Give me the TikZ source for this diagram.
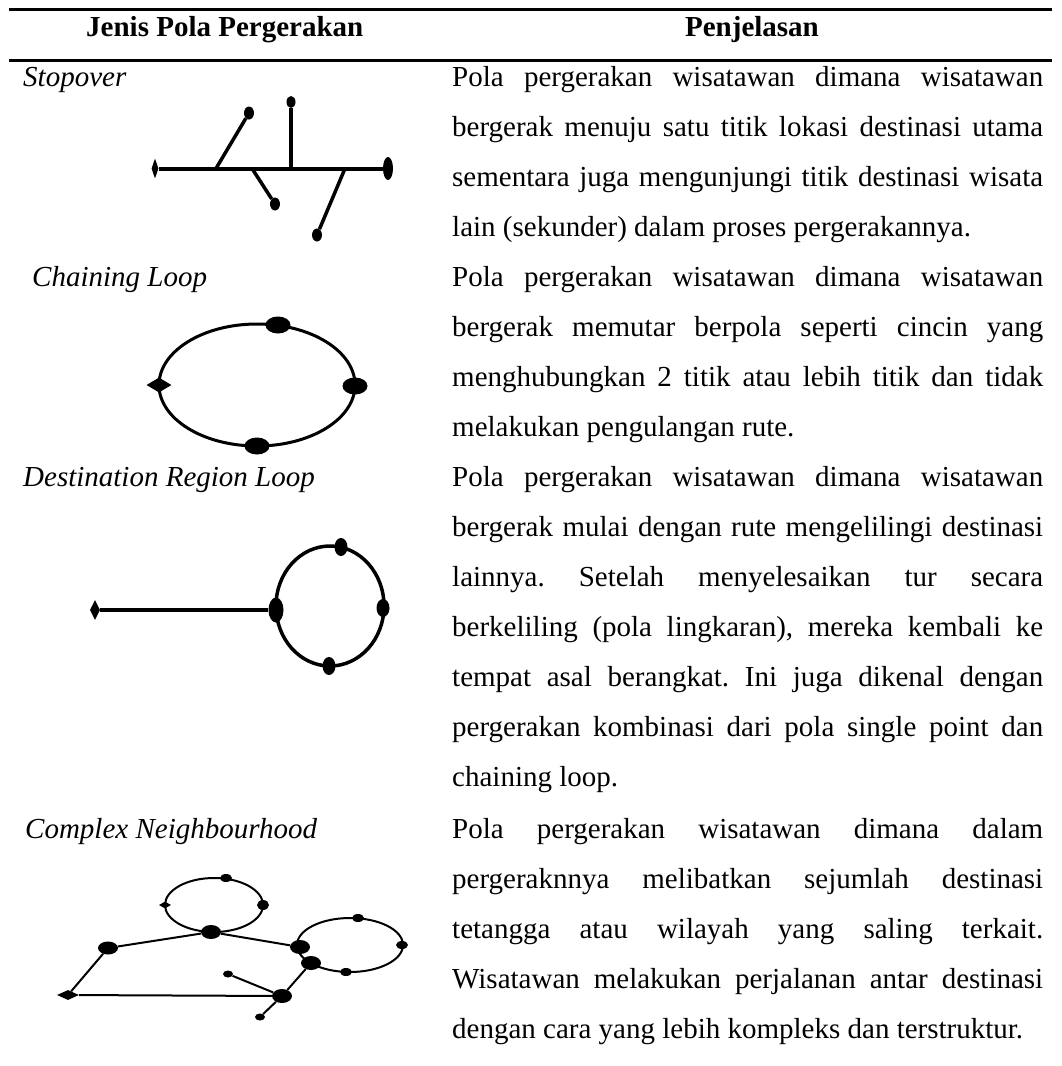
\documentclass[tikz,border=0pt]{standalone}
\usepackage{fontspec}
\setmainfont{Liberation Serif}
\usetikzlibrary{shapes.geometric}
\tikzset{
  spot/.style 2 args={ellipse, fill=black, inner sep=0pt, minimum width=#1pt, minimum height=#2pt},
  tipp/.style 2 args={diamond, fill=black, inner sep=0pt, minimum width=#1pt, minimum height=#2pt},
  head/.style={anchor=base, inner sep=0pt, font=\fontsize{29}{50}\selectfont\bfseries},
  kind/.style={anchor=base west, inner sep=0pt, font=\fontsize{29}{50}\selectfont\itshape},
  desc/.style={anchor=base west, inner sep=0pt, text width=591pt, align=justify, font=\fontsize{29}{50}\selectfont\frenchspacing}
}

\begin{document}
\begin{tikzpicture}[x=1pt, y=-1pt]
		%%%%% START %%%%%
		\fill[white] (0,0) rectangle (1061,1066);
		\useasboundingbox (0,0) rectangle (1061,1066);
		
		% table rules and header
		\draw[line width=3pt] (9,9) -- (1052,9);
		\draw[line width=3pt] (9,60) -- (1052,60);
		\node[head, anchor=base west] (h1) at (86,36) {Jenis Pola Pergerakan};
		\node[head] (h2) at (752,36) {Penjelasan};
		
		% row labels
		\node[kind] (k1) at (23,86) {Stopover};
		\node[kind] (k2) at (32,286) {Chaining Loop};
		\node[kind] (k3) at (23,486) {Destination Region Loop};
		\node[kind] (k4) at (25,838) {Complex Neighbourhood};
		
		% descriptions
		\node[desc] (d1) at (452,86) {\tolerance=10000\hyphenpenalty=10000
			Pola pergerakan wisatawan dimana wisatawan\linebreak
			bergerak menuju satu titik lokasi destinasi utama\linebreak
			sementara juga mengunjungi titik destinasi wisata\linebreak
			lain (sekunder) dalam proses pergerakannya.};
		\node[desc] (d2) at (452,286) {\tolerance=10000\hyphenpenalty=10000
			Pola pergerakan wisatawan dimana wisatawan\linebreak
			bergerak memutar berpola seperti cincin yang\linebreak
			menghubungkan 2 titik atau lebih titik dan tidak\linebreak
			melakukan pengulangan rute.};
		\node[desc] (d3) at (452,486) {\tolerance=10000\hyphenpenalty=10000
			Pola pergerakan wisatawan dimana wisatawan\linebreak
			bergerak mulai dengan rute mengelilingi destinasi\linebreak
			lainnya. Setelah menyelesaikan tur secara\linebreak
			berkeliling (pola lingkaran), mereka kembali ke\linebreak
			tempat asal berangkat. Ini juga dikenal dengan\linebreak
			pergerakan kombinasi dari pola single point dan\linebreak
			chaining loop.};
		\node[desc] (d4) at (452,838) {\tolerance=10000\hyphenpenalty=10000
			Pola pergerakan wisatawan dimana dalam\linebreak
			pergeraknnya melibatkan sejumlah destinasi\linebreak
			tetangga atau wilayah yang saling terkait.\linebreak
			Wisatawan melakukan perjalanan antar destinasi\linebreak
			dengan cara yang lebih kompleks dan terstruktur.};
		
		% stopover
		\node[tipp={7}{20}] (sl) at (155,168.5) {};
		\node[spot={10}{23}] (sr) at (388,168.5) {};
		\draw[line width=4pt] (sl) -- (sr);
		\coordinate (b1) at (216,168.5);
		\coordinate (b2) at (291,168.5);
		\coordinate (b3) at (252,168.5);
		\coordinate (b4) at (345,168.5);
		\node[spot={10}{13}] (s1) at (249,113) {};
		\node[spot={9}{12}] (s2) at (291,102) {};
		\node[spot={10}{13}] (s3) at (275,204) {};
		\node[spot={10}{13}] (s4) at (317,235) {};
		\draw[line width=3.5pt] (b1) -- (s1);
		\draw[line width=3.5pt] (b2) -- (s2);
		\draw[line width=3.5pt] (b3) -- (s3);
		\draw[line width=3.5pt] (b4) -- (s4);
		
		% chaining loop
		\coordinate (cc) at (257,385);
		\draw[line width=3pt] (cc) ellipse [x radius=98, y radius=61];
		\node[spot={25}{17}] (c1) at (278,325) {};
		\node[spot={25}{17}] (c2) at (355,386) {};
		\node[spot={25}{17}] (c3) at (257,446) {};
		\node[tipp={25}{15}] (c4) at (159,385) {};
		
		% destination region loop
		\coordinate (rc) at (330,606);
		\draw[line width=3.5pt] (rc) ellipse [x radius=54, y radius=60];
		\node[tipp={10}{20}] (r0) at (95,610) {};
		\node[spot={15}{25}] (r1) at (276,610) {};
		\node[spot={13}{18}] (r2) at (341,547) {};
		\node[spot={13}{18}] (r3) at (383,608) {};
		\node[spot={13}{18}] (r4) at (329,666) {};
		\draw[line width=4pt] (r0) -- (r1);
		
		% complex neighbourhood
		\coordinate (na) at (214,905);
		\coordinate (nb) at (350,945);
		\draw[line width=2pt] (na) ellipse [x radius=49, y radius=27];
		\draw[line width=2pt] (nb) ellipse [x radius=53, y radius=27];
		\node[spot={12}{8}] (a1) at (226,878) {};
		\node[tipp={12}{7}] (a2) at (165,905) {};
		\node[spot={12}{10}] (a3) at (263,905) {};
		\node[spot={20}{14}] (a4) at (211,932) {};
		\node[spot={20}{14}] (e1) at (300,947) {};
		\node[spot={12}{8}] (e2) at (358,918) {};
		\node[spot={12}{8}] (e3) at (402,945) {};
		\node[spot={12}{8}] (e4) at (346,972) {};
		\node[spot={20}{14}] (e5) at (311,963) {};
		\node[spot={20}{13}] (n1) at (108,948) {};
		\node[tipp={22}{10}] (n2) at (68,995) {};
		\node[spot={20}{14}] (n3) at (282,996) {};
		\node[spot={10}{7}] (n4) at (228,974) {};
		\node[spot={10}{7}] (n5) at (260,1017) {};
		\draw[line width=2pt] (a4) -- (n1);
		\draw[line width=2pt] (a4) -- (e1);
		\draw[line width=2pt] (n1) -- (n2);
		\draw[line width=2pt] (n2) -- (n3);
		\draw[line width=2pt] (e5) -- (n3);
		\draw[line width=2pt] (n4) -- (n3);
		\draw[line width=2pt] (n3) -- (n5);
		
		%%%%% END %%%%%
\end{tikzpicture}
\end{document}
